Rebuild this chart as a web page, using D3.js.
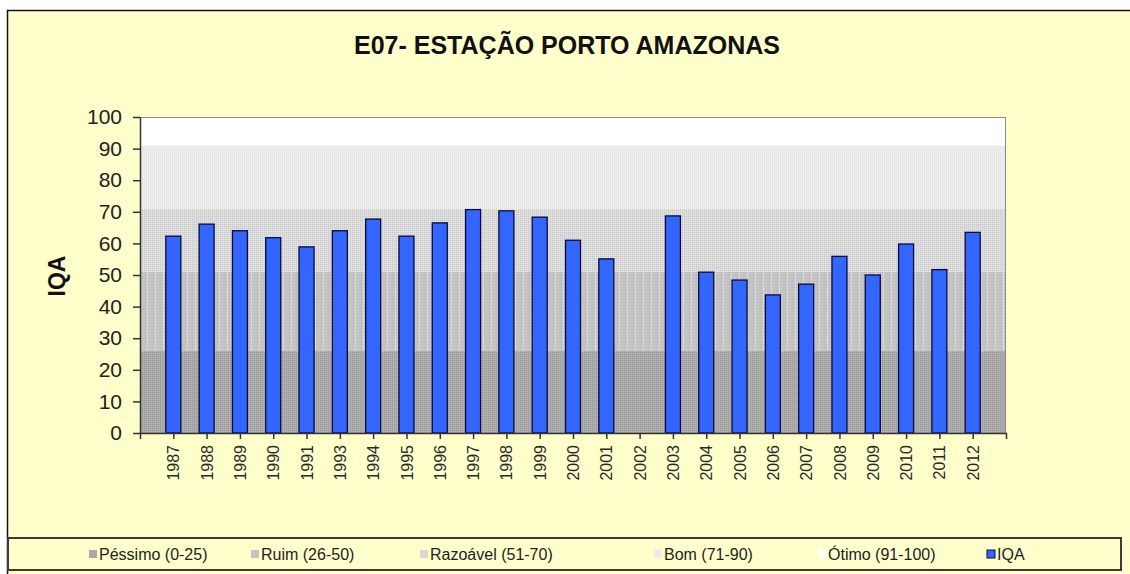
<!DOCTYPE html>
<html>
<head>
<meta charset="utf-8">
<script src="https://cdn.jsdelivr.net/npm/d3@7"></script>
<style>
  body { margin: 0; background: #fff; }
  svg { display: block; font-family: "Liberation Sans", Arial, sans-serif; }
</style>
</head>
<body>
<div id="container"></div>
<script>
// Data.
const years = ['1987', '1988', '1989', '1990', '1991', '1993', '1994', '1995', '1996', '1997',
  '1998', '1999', '2000', '2001', '2002', '2003', '2004', '2005', '2006', '2007',
  '2008', '2009', '2010', '2011', '2012'];
const iqa = [62.3, 66.1, 64.0, 61.8, 58.9, 64.0, 67.7, 62.3, 66.5, 70.7,
  70.3, 68.3, 61.0, 55.1, null, 68.7, 50.9, 48.4, 43.7, 47.1,
  55.9, 50.0, 59.8, 51.7, 63.5];
const bandNames = ['Péssimo (0-25)', 'Ruim (26-50)', 'Razoável (51-70)', 'Bom (71-90)', 'Ótimo (91-100)'];
const bandTops = [26, 51, 71, 91, 100];
const yTicks = [0, 10, 20, 30, 40, 50, 60, 70, 80, 90, 100];
const title = 'E07- ESTAÇÃO PORTO AMAZONAS';

const W = 1130, H = 574;
const plot = { left: 140, right: 1006, top: 117, bottom: 433 };

const svg = d3.select('#container')
  .append('svg')
  .attr('width', W)
  .attr('height', H);

// Patterns for the quality bands.
const defs = svg.append('defs');
function pattern(id, w, h, base, dots) {
  const p = defs.append('pattern')
    .attr('id', id)
    .attr('patternUnits', 'userSpaceOnUse')
    .attr('width', w)
    .attr('height', h);
  p.append('rect').attr('width', w).attr('height', h).attr('fill', base);
  dots.forEach(d => {
    p.append('rect').attr('x', d[0]).attr('y', d[1]).attr('width', 1).attr('height', 1).attr('fill', d[2]);
  });
}
pattern('p0', 2, 2, '#a9a9a9', [[0, 0, '#9b9b9b'], [1, 1, '#b7b7b7']]);
pattern('p1', 8, 3, '#c3c3c3', [[3, 0, '#f4f4f4'], [3, 1, '#dadada'], [0, 2, '#b9b9b9'], [6, 1, '#cbcbcb']]);
pattern('p2', 2, 2, '#d8d8d8', [[0, 0, '#cbcbcb'], [1, 1, '#e6e6e6']]);
pattern('p3', 4, 2, '#ececec', [[0, 0, '#dcdcdc'], [2, 1, '#dcdcdc'], [1, 1, '#fafafa']]);
const bandFills = ['url(#p0)', 'url(#p1)', 'url(#p2)', 'url(#p3)', '#ffffff'];
const legendSwatch = ['#a9a9a9', '#c3c3c3', '#d8d8d8', '#ececec', '#ffffff'];

// Background frame.
svg.append('rect')
  .attr('x', 7).attr('y', 10)
  .attr('width', W).attr('height', H)
  .attr('fill', '#ffffcc');
svg.append('path')
  .attr('d', `M7.5,${H} V10.5 H${W}`)
  .attr('fill', 'none')
  .attr('stroke', '#111')
  .attr('stroke-width', 1.5);

// Scales.
const x = d3.scalePoint()
  .domain(years)
  .range([plot.left, plot.right])
  .padding(1);
const y = d3.scaleLinear()
  .domain([0, 100])
  .range([plot.bottom, plot.top]);

// Bands.
const bands = bandTops.map((t, i) => ({ lo: i ? bandTops[i - 1] : 0, hi: t, fill: bandFills[i] }));
svg.append('g')
  .selectAll('rect')
  .data(bands)
  .join('rect')
  .attr('x', plot.left)
  .attr('width', plot.right - plot.left)
  .attr('y', d => y(d.hi))
  .attr('height', d => y(d.lo) - y(d.hi))
  .attr('fill', d => d.fill);

// Plot border (top and right).
svg.append('path')
  .attr('d', `M${plot.left},${plot.top + 0.5} H${plot.right - 0.5} V${plot.bottom}`)
  .attr('fill', 'none')
  .attr('stroke', '#8c8c8c')
  .attr('stroke-width', 1);

// Bars.
const barW = 15;
svg.append('g')
  .selectAll('rect')
  .data(years.map((yr, i) => ({ yr, v: iqa[i] })).filter(d => d.v != null))
  .join('rect')
  .attr('x', d => x(d.yr) - barW / 2)
  .attr('width', barW)
  .attr('y', d => y(d.v))
  .attr('height', d => y(0) - y(d.v))
  .attr('fill', '#3366ff')
  .attr('stroke', '#0a0a3a')
  .attr('stroke-width', 1.3);

// Axes.
const xAxis = svg.append('g')
  .attr('transform', `translate(0,${plot.bottom})`)
  .call(d3.axisBottom(x).tickSize(6).tickSizeOuter(6));
xAxis.selectAll('text')
  .attr('transform', 'rotate(-90)')
  .attr('x', -12)
  .attr('y', 0)
  .attr('dy', '0.35em')
  .attr('text-anchor', 'end')
  .attr('font-size', 16)
  .attr('fill', '#2a2a2a');

const yAxis = svg.append('g')
  .attr('transform', `translate(${plot.left},0)`)
  .call(d3.axisLeft(y).tickValues(yTicks).tickSize(7).tickSizeOuter(0).tickPadding(11));
yAxis.selectAll('text')
  .attr('font-size', 21)
  .attr('fill', '#222');

svg.selectAll('.domain, .tick line')
  .attr('stroke', '#333')
  .attr('stroke-width', 1.5);

// Titles.
svg.append('text')
  .attr('x', 567)
  .attr('y', 54)
  .attr('text-anchor', 'middle')
  .attr('font-size', 25)
  .attr('font-weight', 'bold')
  .attr('fill', '#111')
  .text(title);

svg.append('text')
  .attr('transform', 'translate(65,276) rotate(-90)')
  .attr('text-anchor', 'middle')
  .attr('font-size', 23)
  .attr('font-weight', 'bold')
  .attr('fill', '#111')
  .text('IQA');

// Legend.
svg.append('rect')
  .attr('x', 8).attr('y', 538)
  .attr('width', 1113).attr('height', 32)
  .attr('fill', '#ffffcc')
  .attr('stroke', '#3a3a3a')
  .attr('stroke-width', 2);

const legendItems = bandNames.map((n, i) => ({ name: n, fill: legendSwatch[i], stroke: 'none' }))
  .concat([{ name: 'IQA', fill: '#3366ff', stroke: '#0a0a3a' }]);
const legendX = [89, 251, 420, 654, 818, 987];

const li = svg.append('g')
  .selectAll('g')
  .data(legendItems)
  .join('g')
  .attr('transform', (d, i) => `translate(${legendX[i]},554)`);
li.append('rect')
  .attr('x', 0).attr('y', -4)
  .attr('width', 8).attr('height', 8)
  .attr('fill', d => d.fill)
  .attr('stroke', d => d.stroke);
li.append('text')
  .attr('x', 10)
  .attr('y', 6)
  .attr('font-size', 16)
  .attr('fill', '#222')
  .text(d => d.name);
</script>
</body>
</html>
